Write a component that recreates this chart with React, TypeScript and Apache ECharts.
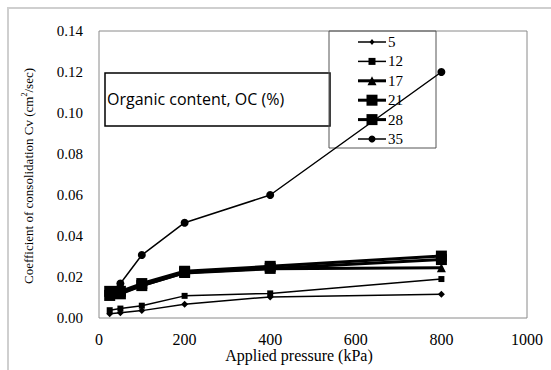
import React, { useEffect, useRef } from "react";
import * as echarts from "echarts";

const pressures = [25, 50, 100, 200, 400, 800];
const seriesNames = ["5", "12", "17", "21", "28", "35"];
const oc5 = [0.0021, 0.0026, 0.0036, 0.0067, 0.0103, 0.0116];
const oc12 = [0.0038, 0.0046, 0.006, 0.0108, 0.012, 0.019];
const oc17 = [0.012, 0.0122, 0.0158, 0.022, 0.024, 0.0245];
const oc21 = [0.011, 0.0118, 0.0158, 0.0222, 0.0242, 0.0285];
const oc28 = [0.013, 0.013, 0.0168, 0.0228, 0.0252, 0.0302];
const oc35 = [0.0125, 0.0168, 0.0307, 0.0465, 0.06, 0.12];
const xTicks = [0, 200, 400, 600, 800, 1000];
const yTicks = [0, 0.02, 0.04, 0.06, 0.08, 0.1, 0.12, 0.14];
const xTitle = "Applied pressure (kPa)";
const boxTitle = "Organic content, OC (%)";

const serif = '"Liberation Serif", "DejaVu Serif", "Times New Roman", serif';

function legendSymbol(kind: string, cx: number, cy: number, s: number) {
  const h = s / 2;
  const base = { z: 12, style: { fill: "#000" } };
  if (kind === "circle") {
    return { ...base, type: "circle", shape: { cx, cy, r: h } };
  }
  if (kind === "rect") {
    return { ...base, type: "rect", shape: { x: cx - h, y: cy - h, width: s, height: s } };
  }
  if (kind === "triangle") {
    return { ...base, type: "polygon", shape: { points: [[cx, cy - h], [cx + h, cy + h], [cx - h, cy + h]] } };
  }
  return {
    ...base,
    type: "polygon",
    shape: { points: [[cx, cy - h], [cx + h * 0.8, cy], [cx, cy + h], [cx - h * 0.8, cy]] },
  };
}

export default function App() {
  const ref = useRef<HTMLDivElement>(null);
  useEffect(() => {
    if (!ref.current) return;
    const chart = echarts.init(ref.current, null, { renderer: "svg" });
    const values = [oc5, oc12, oc17, oc21, oc28, oc35];
    const symbols = ["diamond", "rect", "triangle", "rect", "rect", "circle"];
    const sizes = [7, 6, 9, 11, 11, 8];
    const legendSizes = [6, 7, 9, 11, 11, 7];
    const widths = [1.5, 1.5, 3, 3, 3, 1.5];

    chart.setOption({
      animation: false,
      backgroundColor: "#fff",
      grid: {
        left: 99,
        right: 24,
        top: 31,
        bottom: 52,
        show: true,
        borderColor: "#8a8a8a",
        borderWidth: 1,
      },
      xAxis: {
        type: "value",
        min: xTicks[0],
        max: xTicks[xTicks.length - 1],
        interval: 200,
        axisLine: { show: false },
        axisTick: { show: false },
        splitLine: { show: false },
        axisLabel: { show: false },
      },
      yAxis: {
        type: "value",
        min: yTicks[0],
        max: yTicks[yTicks.length - 1],
        interval: 0.02,
        axisLine: { show: false },
        axisTick: { show: false },
        splitLine: { show: false },
        axisLabel: { show: false },
      },
      series: seriesNames.map((name, i) => ({
        name,
        type: "line",
        data: pressures.map((p, j) => [p, values[i][j]]),
        symbol: symbols[i],
        symbolSize: sizes[i],
        showSymbol: true,
        color: "#000",
        lineStyle: { color: "#000", width: widths[i] },
        itemStyle: { color: "#000" },
        z: 5,
      })),
    });

    const legendItems: any[] = [];
    seriesNames.forEach((name, i) => {
      const cy = 42 + i * 19.4;
      legendItems.push({
        type: "line",
        z: 11,
        shape: { x1: 358, y1: cy, x2: 386, y2: cy },
        style: { stroke: "#000", lineWidth: widths[i] },
      });
      legendItems.push(legendSymbol(symbols[i], 372, cy, legendSizes[i]));
      legendItems.push({
        type: "text",
        z: 12,
        x: 388,
        y: cy,
        style: { text: name, fontFamily: serif, fontSize: 15, fill: "#000", verticalAlign: "middle" },
      });
    });

    const xLabelItems = xTicks.map((v) => ({
      type: "text",
      z: 10,
      x: chart.convertToPixel({ xAxisIndex: 0 }, v) as number,
      y: 339,
      style: {
        text: String(v),
        fontFamily: serif,
        fontSize: 16,
        fill: "#000",
        align: "center",
        verticalAlign: "middle",
      },
    }));
    const yLabelItems = yTicks.map((v) => ({
      type: "text",
      z: 10,
      x: 83,
      y: chart.convertToPixel({ yAxisIndex: 0 }, v) as number,
      style: {
        text: v.toFixed(2),
        fontFamily: serif,
        fontSize: 15,
        fill: "#000",
        align: "right",
        verticalAlign: "middle",
      },
    }));

    chart.setOption({
      graphic: [
        {
          type: "rect",
          shape: { x: 8, y: 8, width: 700, height: 500 },
          style: { fill: "none", stroke: "#cfcfcf", lineWidth: 2 },
          silent: true,
          z: -1,
        },
        {
          type: "rect",
          shape: { x: 105, y: 73, width: 225, height: 53 },
          style: { fill: "#fff", stroke: "#000", lineWidth: 1.5 },
          z: 1,
        },
        {
          type: "text",
          x: 107,
          y: 99,
          style: {
            text: boxTitle,
            fontFamily: "Open Sans",
            fontSize: 16,
            fill: "#000",
            verticalAlign: "middle",
          },
          z: 2,
        },
        {
          type: "rect",
          shape: { x: 329, y: 31, width: 107, height: 117 },
          style: { fill: "none", stroke: "#555", lineWidth: 1 },
          z: 1,
        },
        { type: "group", children: legendItems },
        { type: "group", children: xLabelItems },
        { type: "group", children: yLabelItems },
        {
          type: "text",
          z: 10,
          x: 299,
          y: 355,
          style: {
            text: xTitle,
            fontFamily: serif,
            fontSize: 16,
            fill: "#000",
            align: "center",
            verticalAlign: "middle",
          },
        },
        {
          type: "text",
          z: 10,
          x: 28,
          y: 176,
          rotation: Math.PI / 2,
          style: {
            text: "{a|Coefficient of consolidation Cv (cm}{s|2}{a|/sec)}",
            align: "center",
            verticalAlign: "middle",
            rich: {
              a: { fontFamily: serif, fontSize: 13, fill: "#000", lineHeight: 16 },
              s: { fontFamily: serif, fontSize: 8, fill: "#000", lineHeight: 16, padding: [0, 0, 7, 0] },
            },
          },
        },
      ],
    });
    return () => chart.dispose();
  }, []);
  return (
    <div
      ref={ref}
      style={{ position: "fixed", left: 0, top: 0, width: 551, height: 370 }}
    />
  );
}
